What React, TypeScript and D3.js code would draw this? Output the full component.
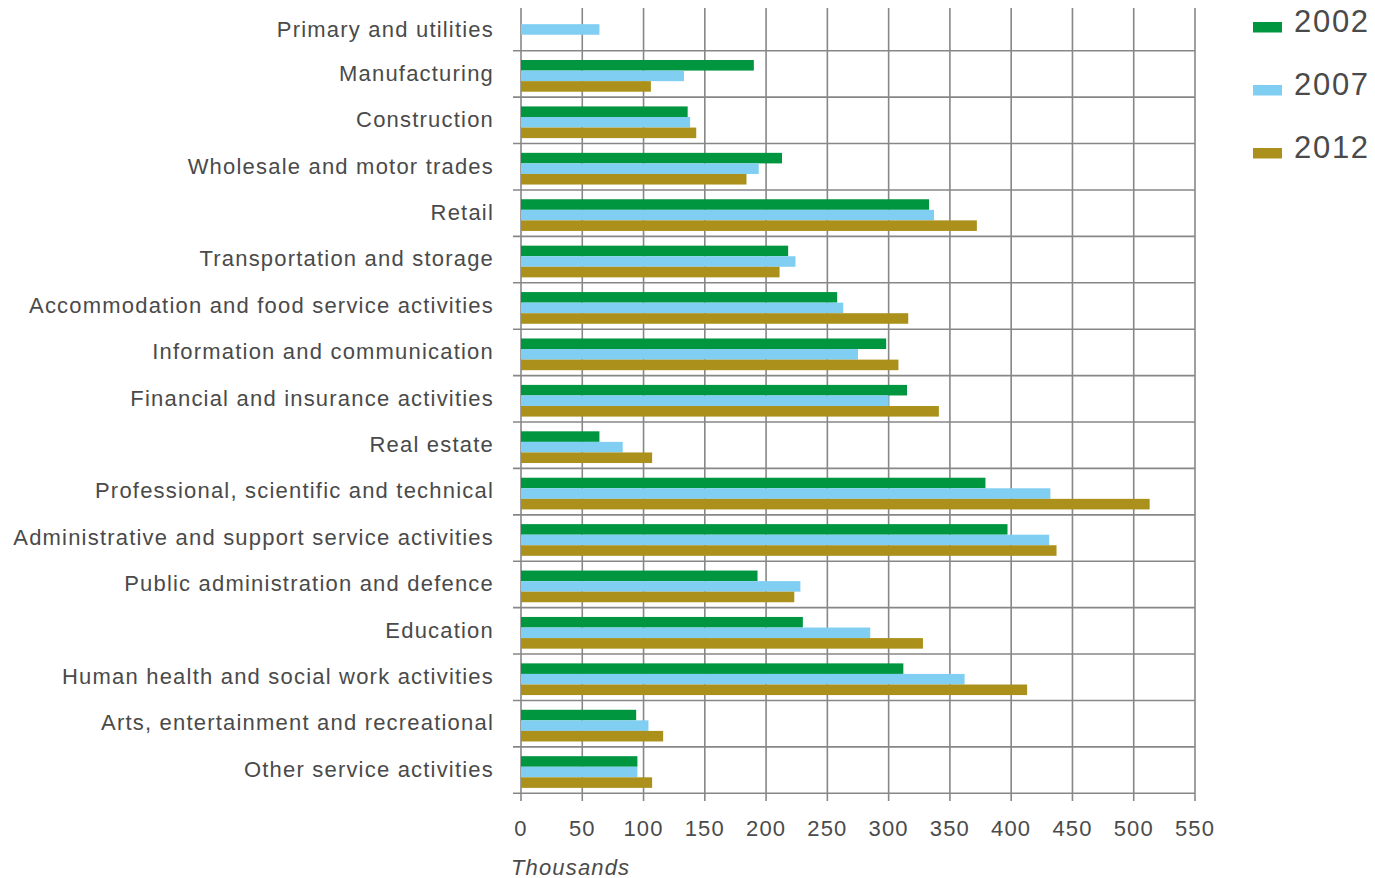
import React from "react";
import * as d3 from "d3";

const categories = [
  "Primary and utilities",
  "Manufacturing",
  "Construction",
  "Wholesale and motor trades",
  "Retail",
  "Transportation and storage",
  "Accommodation and food service activities",
  "Information and communication",
  "Financial and insurance activities",
  "Real estate",
  "Professional, scientific and technical",
  "Administrative and support service activities",
  "Public administration and defence",
  "Education",
  "Human health and social work activities",
  "Arts, entertainment and recreational",
  "Other service activities",
];

const seriesNames = ["2002", "2007", "2012"];
const values2002: (number | null)[] = [null, 190, 136, 213, 333, 218, 258, 298, 315, 64, 379, 397, 193, 230, 312, 94, 95];
const values2007: (number | null)[] = [64, 133, 138, 194, 337, 224, 263, 275, 300, 83, 432, 431, 228, 285, 362, 104, 95];
const values2012: (number | null)[] = [null, 106, 143, 184, 372, 211, 316, 308, 341, 107, 513, 437, 223, 328, 413, 116, 107];
const xTicks = [0, 50, 100, 150, 200, 250, 300, 350, 400, 450, 500, 550];
const colors = ["#009640", "#80cff3", "#ab911c"];

const seriesValues = [values2002, values2007, values2012];

export default function App() {
  const x = d3.scaleLinear().domain([0, 550]).range([521, 1195]);
  const y = d3.scaleBand<string>().domain(categories).range([4.3, 793.3]).padding(0);
  const bw = y.bandwidth();
  const inner = d3.scaleBand<string>().domain(seriesNames).range([9.3, 41]).padding(0);
  const textColor = "#4a4a4a";
  const font = "'Liberation Sans', Arial, sans-serif";
  const gridColor = "#878787";

  return (
    <svg
      width={1375}
      height={878}
      style={{ position: "absolute", left: 0, top: 0, background: "#fff" }}
      fontFamily={font}
    >
      {/* vertical gridlines */}
      {xTicks.map((t) => (
        <line key={"v" + t} x1={x(t)} x2={x(t)} y1={8} y2={801} stroke={gridColor} strokeWidth={1.6} />
      ))}
      {/* horizontal gridlines at band boundaries */}
      {categories.map((c) => (
        <line
          key={"h" + c}
          x1={513}
          x2={1195}
          y1={(y(c) as number) + bw}
          y2={(y(c) as number) + bw}
          stroke={gridColor}
          strokeWidth={1.6}
        />
      ))}
      {/* bars */}
      {categories.map((c, i) => (
        <g key={"g" + c}>
          {seriesValues.map((vals, s) => {
            const v = vals[i];
            if (v === null) return null;
            return (
              <rect
                key={s}
                x={x(0)}
                y={(y(c) as number) + (inner(seriesNames[s]) as number)}
                width={x(v) - x(0)}
                height={inner.bandwidth()}
                fill={colors[s]}
              />
            );
          })}
        </g>
      ))}
      {/* category labels */}
      {categories.map((c, i) => (
        <text
          key={"l" + c}
          x={494}
          y={(y(c) as number) + (i === 0 ? 25 : 22.5)}
          textAnchor="end"
          dominantBaseline="central"
          fontSize={22}
          letterSpacing={1.2}
          fill={textColor}
        >
          {c}
        </text>
      ))}
      {/* x tick labels */}
      {xTicks.map((t) => (
        <text
          key={"t" + t}
          x={x(t)}
          y={828}
          textAnchor="middle"
          dominantBaseline="central"
          fontSize={22}
          letterSpacing={1.15}
          fill={textColor}
        >
          {t}
        </text>
      ))}
      <text x={511} y={867} dominantBaseline="central" fontSize={22} letterSpacing={1.15} fontStyle="italic" fill={textColor}>
        Thousands
      </text>
      {/* legend */}
      {seriesNames.map((n, s) => (
        <g key={"lg" + n}>
          <rect x={1253} y={[22, 85, 148][s]} width={29} height={10.5} fill={colors[s]} />
          <text
            x={1294}
            y={[21.5, 84.5, 147.5][s]}
            dominantBaseline="central"
            fontSize={31}
            letterSpacing={1.7}
            fill={textColor}
          >
            {n}
          </text>
        </g>
      ))}
    </svg>
  );
}
